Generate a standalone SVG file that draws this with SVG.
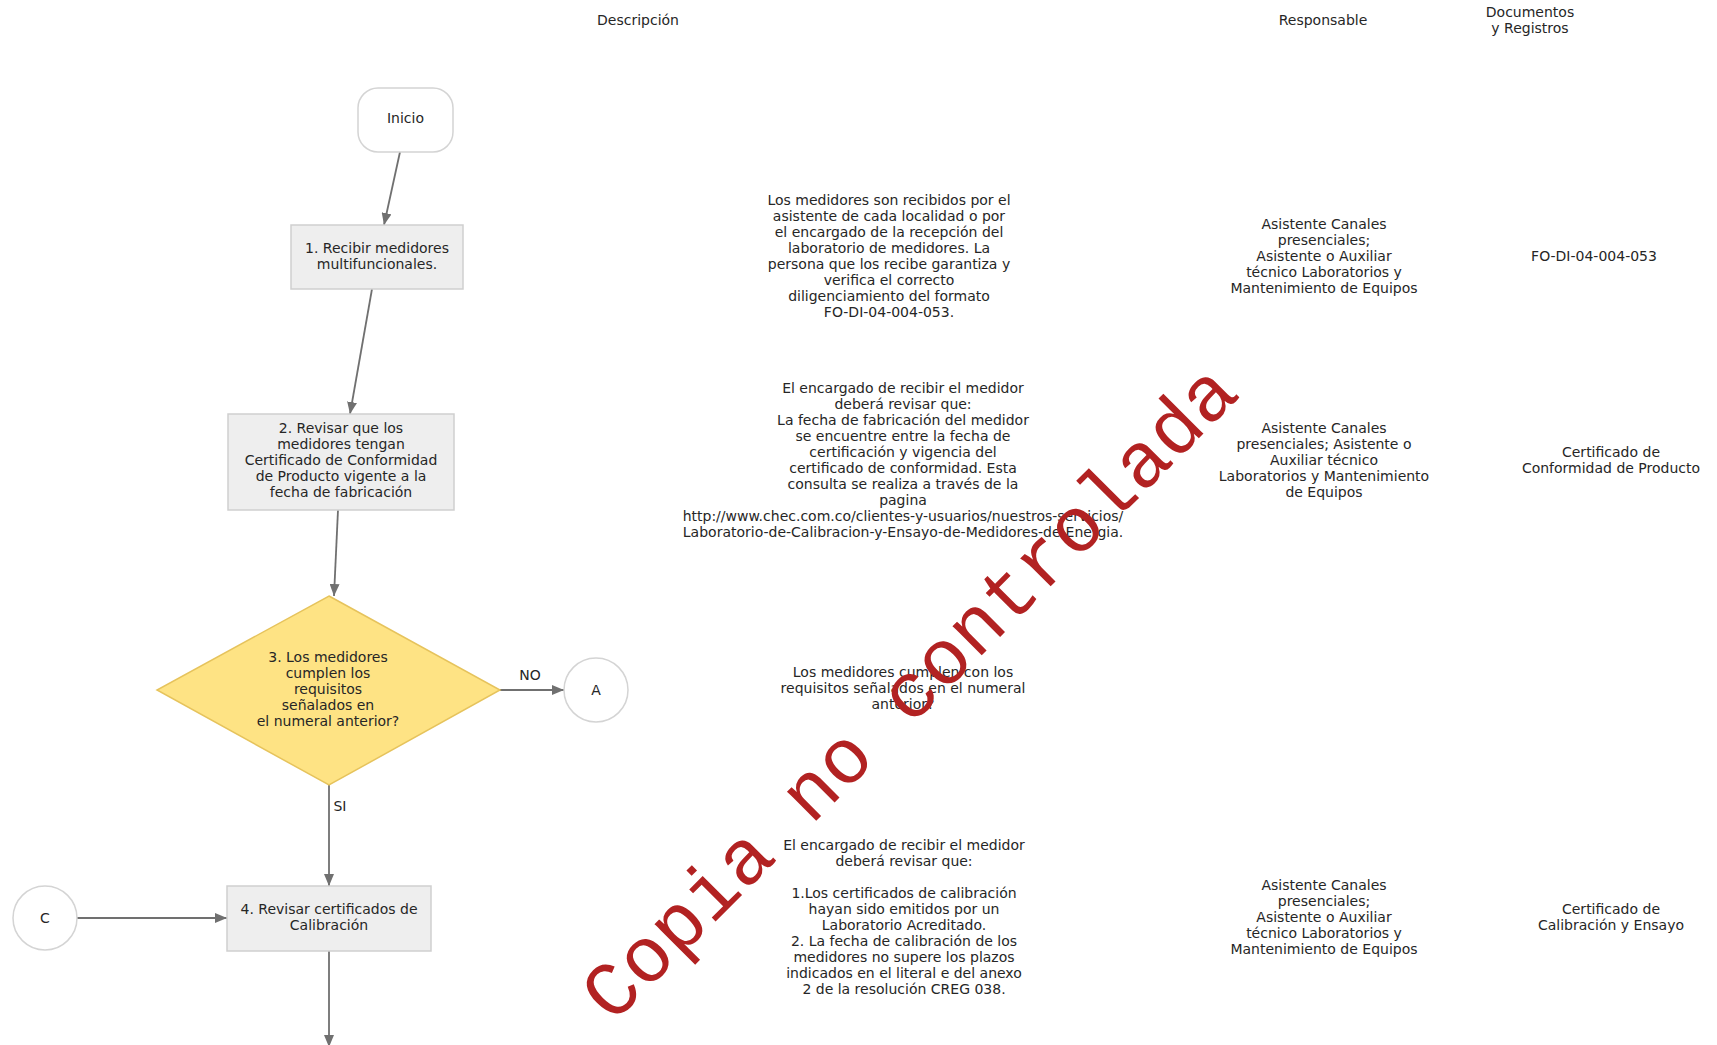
<svg xmlns="http://www.w3.org/2000/svg" width="1717" height="1045" viewBox="0 0 1717 1045">
<style>
text { font-family: "DejaVu Sans", "Liberation Sans", sans-serif; font-size: 14px; fill: #262626; text-anchor: middle; }
.box { fill: #eeeeee; stroke: #cfcfcf; stroke-width: 1.5; }
.term { fill: #ffffff; stroke: #d4d4d4; stroke-width: 1.5; }
.dec { fill: #fee384; stroke: #e6c35c; stroke-width: 1.5; }
.edge { stroke: #707070; stroke-width: 1.8; fill: none; marker-end: url(#arr); }
.wm { font-family: "Liberation Mono", "Courier New", monospace; font-size: 78px; fill: #b22222; }
</style>
<defs>
<marker id="arr" viewBox="0 0 12 10" refX="12" refY="5" markerWidth="12" markerHeight="10" markerUnits="userSpaceOnUse" orient="auto">
<path d="M0,0 L12,5 L0,10 z" fill="#707070"/>
</marker>
</defs>
<rect width="1717" height="1045" fill="#ffffff"/>

<g id="headers">
<text x="638" y="25">Descripción</text>
<text x="1323" y="25">Responsable</text>
<text x="1530" y="17">Documentos</text>
<text x="1530" y="33">y Registros</text>
</g>

<g id="connectors">
<line class="edge" x1="400" y1="152" x2="384" y2="225"/>
<line class="edge" x1="372" y1="289" x2="350" y2="414"/>
<line class="edge" x1="338" y1="510" x2="334" y2="596"/>
<line class="edge" x1="500" y1="690" x2="564" y2="690"/>
<line class="edge" x1="329" y1="785" x2="329" y2="886"/>
<line class="edge" x1="77" y1="918" x2="227" y2="918"/>
<line class="edge" x1="329" y1="951" x2="329" y2="1047"/>
<text x="530" y="680">NO</text>
<text x="340" y="811">SI</text>
</g>

<g id="inicio">
<rect class="term" x="358" y="88" width="95" height="64" rx="20" ry="20"/>
<text x="405.5" y="123">Inicio</text>
</g>

<g id="n1">
<rect class="box" x="291" y="225" width="172" height="64"/>
<text x="377" y="253">1. Recibir medidores</text>
<text x="377" y="269">multifuncionales.</text>
</g>

<g id="n2">
<rect class="box" x="228" y="414" width="226" height="96"/>
<text x="341" y="433">2. Revisar que los</text>
<text x="341" y="449">medidores tengan</text>
<text x="341" y="465">Certificado de Conformidad</text>
<text x="341" y="481">de Producto vigente a la</text>
<text x="341" y="497">fecha de fabricación</text>
</g>

<g id="n3">
<polygon class="dec" points="329,596 500,690 329,785 157,690"/>
<text x="328" y="662">3. Los medidores</text>
<text x="328" y="678">cumplen los</text>
<text x="328" y="694">requisitos</text>
<text x="328" y="710">señalados en</text>
<text x="328" y="726">el numeral anterior?</text>
</g>

<g id="a">
<circle class="term" cx="596" cy="690" r="32"/>
<text x="596" y="695">A</text>
</g>

<g id="n4">
<rect class="box" x="227" y="886" width="204" height="65"/>
<text x="329" y="914">4. Revisar certificados de</text>
<text x="329" y="930">Calibración</text>
</g>

<g id="c">
<circle class="term" cx="45" cy="918" r="32"/>
<text x="45" y="923">C</text>
</g>

<g id="desc1">
<text x="889" y="205">Los medidores son recibidos por el</text>
<text x="889" y="221">asistente de cada localidad o por</text>
<text x="889" y="237">el encargado de la recepción del</text>
<text x="889" y="253">laboratorio de medidores. La</text>
<text x="889" y="269">persona que los recibe garantiza y</text>
<text x="889" y="285">verifica el correcto</text>
<text x="889" y="301">diligenciamiento del formato</text>
<text x="889" y="317">FO-DI-04-004-053.</text>
</g>

<g id="desc2">
<text x="903" y="393">El encargado de recibir el medidor</text>
<text x="903" y="409">deberá revisar que:</text>
<text x="903" y="425">La fecha de fabricación del medidor</text>
<text x="903" y="441">se encuentre entre la fecha de</text>
<text x="903" y="457">certificación y vigencia del</text>
<text x="903" y="473">certificado de conformidad. Esta</text>
<text x="903" y="489">consulta se realiza a través de la</text>
<text x="903" y="505">pagina</text>
<text x="903" y="521">http://www.chec.com.co/clientes-y-usuarios/nuestros-servicios/</text>
<text x="903" y="537">Laboratorio-de-Calibracion-y-Ensayo-de-Medidores-de-Energia.</text>
</g>

<g id="desc3">
<text x="903" y="677">Los medidores cumplen con los</text>
<text x="903" y="693">requisitos señalados en el numeral</text>
<text x="903" y="709">anterior?</text>
</g>

<g id="desc4">
<text x="904" y="850">El encargado de recibir el medidor</text>
<text x="904" y="866">deberá revisar que:</text>
<text x="904" y="898">1.Los certificados de calibración</text>
<text x="904" y="914">hayan sido emitidos por un</text>
<text x="904" y="930">Laboratorio Acreditado.</text>
<text x="904" y="946">2. La fecha de calibración de los</text>
<text x="904" y="962">medidores no supere los plazos</text>
<text x="904" y="978">indicados en el literal e del anexo</text>
<text x="904" y="994">2 de la resolución CREG 038.</text>
</g>

<g id="resp1">
<text x="1324" y="229">Asistente Canales</text>
<text x="1324" y="245">presenciales;</text>
<text x="1324" y="261">Asistente o Auxiliar</text>
<text x="1324" y="277">técnico Laboratorios y</text>
<text x="1324" y="293">Mantenimiento de Equipos</text>
</g>

<g id="resp2">
<text x="1324" y="433">Asistente Canales</text>
<text x="1324" y="449">presenciales; Asistente o</text>
<text x="1324" y="465">Auxiliar técnico</text>
<text x="1324" y="481">Laboratorios y Mantenimiento</text>
<text x="1324" y="497">de Equipos</text>
</g>

<g id="resp4">
<text x="1324" y="890">Asistente Canales</text>
<text x="1324" y="906">presenciales;</text>
<text x="1324" y="922">Asistente o Auxiliar</text>
<text x="1324" y="938">técnico Laboratorios y</text>
<text x="1324" y="954">Mantenimiento de Equipos</text>
</g>

<g id="docs">
<text x="1594" y="261">FO-DI-04-004-053</text>
<text x="1611" y="457">Certificado de</text>
<text x="1611" y="473">Conformidad de Producto</text>
<text x="1611" y="914">Certificado de</text>
<text x="1611" y="930">Calibración y Ensayo</text>
</g>

<g id="watermark">
<text class="wm" x="927" y="710" transform="rotate(-45 927 710)">Copia no controlada</text>
</g>
</svg>
